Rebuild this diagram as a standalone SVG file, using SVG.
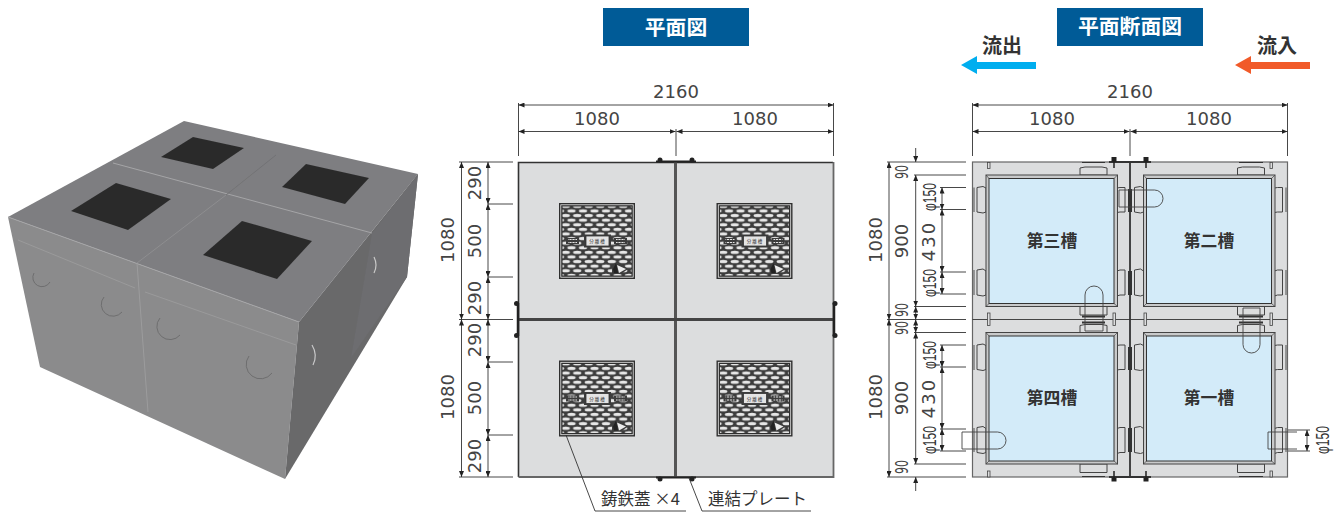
<svg xmlns="http://www.w3.org/2000/svg" width="1341" height="514" viewBox="0 0 1341 514">
<style>
.dim{font-family:"DejaVu Sans",sans-serif;font-size:18px;fill:#444;text-anchor:middle}
.phi{font-family:"Liberation Sans",sans-serif;font-size:18.500px;fill:#333;text-anchor:middle}
.ttl{font-family:"Noto Sans CJK JP",sans-serif;font-size:20.800px;font-weight:700;fill:#fff;text-anchor:middle}
.bld{font-family:"Noto Sans CJK JP",sans-serif;font-size:20px;font-weight:700;fill:#333;text-anchor:middle}
.tnk{font-family:"Noto Sans CJK JP",sans-serif;font-size:16.800px;font-weight:700;fill:#333;text-anchor:middle}
.lbl{font-family:"Noto Sans CJK JP",sans-serif;font-size:16.500px;fill:#333}
.d{stroke:#333;stroke-width:.9;fill:none}
.a{marker-start:url(#ar);marker-end:url(#ar)}
.e{marker-end:url(#ar)}
.l{stroke:#444;stroke-width:1;fill:#dcddde}
.p{stroke:#444;stroke-width:.9;fill:none}
</style>
<defs>
<filter id="soft" x="-5%" y="-5%" width="110%" height="110%"><feGaussianBlur stdDeviation=".6"/></filter>
<marker id="ar" markerUnits="userSpaceOnUse" markerWidth="7" markerHeight="5" refX="6" refY="2.500" orient="auto-start-reverse"><path d="M0 0L6 2.500L0 5Z" fill="#222"/></marker>
<pattern id="mesh" patternUnits="userSpaceOnUse" width="11.500" height="9.200" x="1" y="1"><rect width="11.500" height="9.200" fill="#3c3c3c"/><ellipse cx="5.750" cy="2.300" rx="4.200" ry="1.700" fill="#e6e6e6"/><ellipse cx="0" cy="6.900" rx="4.200" ry="1.700" fill="#e6e6e6"/><ellipse cx="11.500" cy="6.900" rx="4.200" ry="1.700" fill="#e6e6e6"/></pattern>
<g id="cover">
<rect x="0" y="0" width="76" height="76" fill="#2f2f2f"/>
<rect x="1.800" y="1.800" width="72.400" height="72.400" fill="none" stroke="#ececec" stroke-width=".8"/>
<rect x="3.500" y="3.500" width="69" height="69" fill="url(#mesh)"/>
<rect x="25" y="31.500" width="27" height="13" fill="#3c3c3c"/>
<rect x="27" y="33" width="23" height="10" fill="#e4e4e4" stroke="#333" stroke-width=".8"/>
<text x="38.500" y="40" font-family="'Noto Sans CJK JP',sans-serif" font-size="4.500" letter-spacing="1" text-anchor="middle" fill="#333">分離槽</text>
<rect x="7" y="35" width="13" height="6" fill="#3c3c3c"/><rect x="55" y="35" width="13" height="6" fill="#3c3c3c"/>
<path d="M9 36.500H18M9 39.500H18M57 36.500H66M57 39.500H66" stroke="#e4e4e4" stroke-width="1"/>
<path d="M10 35V41M13 35V41M16 35V41M59 35V41M62 35V41M65 35V41" stroke="#3c3c3c" stroke-width=".8"/>
<path d="M53 61H62L69 66L62 71H53Z" fill="#3c3c3c"/>
<path d="M58 62L67 66L60 70Z" fill="#ececec"/><path d="M54 66L57 60L59 70L55 70Z" fill="#222"/>
</g>
<g id="tank">
<path class="l" d="M977 187.500L983 186.500L986 188V212L983 213L977 212Z M977 270L983 269L986 271V295L983 296L977 295Z M1117 188L1120 187.500H1125V212H1120L1117 212.500Z M1117 271L1120 270H1125V295H1120L1117 296Z"/>
<path class="l" d="M1080 175V168L1085 167H1102L1107 168V175Z M1080 306.500V315H1107V306.500Z"/>
<rect x="986" y="175" width="131.500" height="131.500" fill="#c9cacb" stroke="#444" stroke-width="1"/>
<rect x="989" y="178.500" width="125" height="125" fill="#d3ebf9" stroke="#333" stroke-width="1"/>
<path d="M986 175L989 178.500M1117.500 175L1114 178.500M986 306.500L989 303.500M1117.500 306.500L1114 303.500" stroke="#444" stroke-width=".7"/>
</g>
</defs>
<rect width="1341" height="514" fill="#fff"/>
<g id="block-3d" filter="url(#soft)">
<polygon points="8,217 184,121 418,174 299,322" fill="#7e7e81"/>
<polygon points="8,217 299,322 285,479 40,367" fill="#8b8b8c"/>
<polygon points="299,322 418,174 407,277 285,479" fill="#69696b"/>
<polygon points="372,233 351,358 407,277 418,174" fill="#6d6d6f"/>
<polygon points="193,137 244,148 213,169 161,157" fill="#2c2c2c"/>
<polygon points="306,164 369,178 345,204 282,187" fill="#2c2c2c"/>
<polygon points="116,183 171,199 128,230 71,211" fill="#2c2c2c"/>
<polygon points="242,221 312,241 277,279 203,255" fill="#2c2c2c"/>
<g fill="none" stroke="#a5a5a7" stroke-width="1">
<path d="M113 163L372 233"/><path d="M8 217L299 322"/><path d="M137 263L226 195" stroke="#8e8e90"/><path d="M226 195L276 155" stroke="#737375"/>
<path d="M137 263L148 412" stroke="#9c9c9d"/>
<path d="M18 240L135 288M145 292L296 345" stroke="#9a9a9b"/>
</g>
<g fill="none" stroke="#6e6e6f" stroke-width="1">
<path d="M34 273A9 9 0 0 0 50 282M104 297A9 9 0 0 0 122 312M160 318A10 10 0 0 0 180 335M249 356A12 12 0 0 0 272 373"/>
</g>
<g fill="none" stroke="#c9c9c9" stroke-width="1.200"><path d="M312 345Q318 355 313 365"/><path d="M374 257Q378 265 374 273"/></g>
</g>
<g id="title-plan"><rect x="603" y="8" width="146" height="38" fill="#005b97"/><text class="ttl" x="676" y="35">平面図</text></g>
<g id="title-section"><rect x="1057" y="8" width="146" height="38" fill="#005b97"/><text class="ttl" x="1130" y="34">平面断面図</text></g>
<g id="outflow"><text class="bld" x="1002" y="53">流出</text><polygon points="961,65 977,56 977,62 1036,62 1036,69 977,69 977,74" fill="#00aeef"/></g>
<g id="inflow"><text class="bld" x="1277" y="53">流入</text><polygon points="1235,65 1251,56 1251,62 1310,62 1310,69 1251,69 1251,74" fill="#f15a29"/></g>

<g id="plan">
<rect x="518.500" y="162" width="315" height="315" fill="#dcddde"/>
<g id="plan-frame" fill="none">
<path d="M518.500 477V162.500H833" stroke="#333" stroke-width="1.600"/>
<path d="M518.500 477H833.500V162" stroke="#666" stroke-width="1.800"/>
<path d="M675.500 162V477" stroke="#555" stroke-width="3"/>
<path d="M518 319.500H834" stroke="#444" stroke-width="3"/>
<path d="M518 303V336M834 303V336" stroke="#222" stroke-width="2.500"/>
<path d="M656 161.500H696M656 477.500H696" stroke="#222" stroke-width="2"/>
</g>
<g id="plan-bolts" fill="#222"><circle cx="660" cy="160" r="2.500"/><circle cx="692" cy="160" r="2.500"/><circle cx="660" cy="479" r="2.500"/><circle cx="692" cy="479" r="2.500"/><circle cx="516.500" cy="303.500" r="2.500"/><circle cx="516.500" cy="335.500" r="2.500"/><circle cx="835" cy="303.500" r="2.500"/><circle cx="835" cy="335.500" r="2.500"/></g>
<g id="cover-1"><use href="#cover" x="559" y="203"/></g>
<g id="cover-2"><use href="#cover" x="716.500" y="203"/></g>
<g id="cover-3"><use href="#cover" x="559" y="360.500"/></g>
<g id="cover-4"><use href="#cover" x="716.500" y="360.500"/></g>
</g>

<g id="section">
<rect x="972.500" y="162" width="315" height="315" fill="#dcddde" stroke="#666" stroke-width="1.200"/>
<g id="tank-3"><use href="#tank"/><text class="tnk" x="1052" y="247">第三槽</text></g>
<g id="tank-2"><use href="#tank" x="157.500"/><text class="tnk" x="1209" y="247">第二槽</text></g>
<g id="tank-4"><use href="#tank" y="157.500"/><text class="tnk" x="1052" y="404">第四槽</text></g>
<g id="tank-1"><use href="#tank" x="157.500" y="157.500"/><text class="tnk" x="1209" y="404">第一槽</text></g>
<g id="walls" fill="none" stroke="#333">
<path d="M1130 162V477" stroke-width="1.800"/>
<path d="M972.500 319.500H1287.500" stroke-width=".9"/>
<path d="M1130 189V212M1130 271V295M1130 347V370M1130 428V452" stroke-width="4"/>
<path d="M974 187.500V212M974 270V295M974 345V370M974 428V452M1286 187.500V212M1286 270V295M1286 345V370M1286 428V452" stroke-width="1.200" stroke="#666"/>
<path d="M1109 162H1151M1109 477H1151" stroke-width="2"/>
<path d="M1082 316.500H1105M1082 322.500H1105M1239 316.500H1263M1239 322.500H1263" stroke-width="2"/>
<path d="M1082 162.500H1105M1239 162.500H1263M1082 476.500H1105M1239 476.500H1263" stroke-width="1"/>
</g>
<g id="slots" fill="#dcddde" stroke="#444" stroke-width=".8">
<rect x="987.500" y="162.500" width="2.500" height="6"/><rect x="1270" y="162.500" width="2.500" height="6"/>
<rect x="987.500" y="313" width="2.500" height="12.500"/><rect x="1113" y="313" width="2.500" height="12.500"/><rect x="1144" y="313" width="2.500" height="12.500"/><rect x="1270" y="313" width="2.500" height="12.500"/>
<rect x="987.500" y="471" width="2.500" height="6"/><rect x="1270" y="471" width="2.500" height="6"/>
</g>
<g id="section-bolts" fill="#222" stroke="#222"><rect x="1112" y="157.500" width="4" height="4"/><rect x="1144" y="157.500" width="4" height="4"/><rect x="1112" y="478" width="4" height="3"/><rect x="1144" y="478" width="4" height="3"/><path d="M1114 160V168M1146 160V168M1114 471V478M1146 471V478" stroke-width="1.500" fill="none"/></g>
</g>

<g id="pipes" class="p">
<path d="M1119 190H1154.500A8.500 8.500 0 0 1 1154.500 207H1119Z"/>
<path d="M1085 331V295A9 9 0 0 1 1103 295V331Z"/>
<path d="M1243 308V344.500A8.500 8.500 0 0 0 1260 344.500V308Z"/>
<path d="M962 432H997.500A8.500 8.500 0 0 1 997.500 449H962Z"/>
<path d="M1297 432H1268V449H1297"/>
</g>

<g id="connectors" fill="none">
<g id="dims-plan" class="d">
<path d="M518.500 103V156M833.500 103V156M676 129V156"/>
<path class="a" d="M518.500 105H833.500"/>
<path class="a" d="M518.500 131.500H675.500"/>
<path class="a" d="M676.500 131.500H833.500"/>
<path d="M459 162H513M488 204H513M488 277H513M459 319.500H513M488 362H513M488 435H513M459 477H513"/>
<path class="a" d="M461.500 162V319.500"/><path class="a" d="M461.500 319.500V477"/>
<path class="a" d="M488 162V204"/><path class="a" d="M488 204V277"/><path class="a" d="M488 277V319.500"/>
<path class="a" d="M488 319.500V362"/><path class="a" d="M488 362V435"/><path class="a" d="M488 435V477"/>
<path d="M566 435L595 511H686M689 478L702 511H811"/>
</g>
<g id="dims-section" class="d">
<path d="M972.500 103V156M1287.500 103V156M1130 129V156"/>
<path class="a" d="M972.500 105H1287.500"/>
<path class="a" d="M972.500 131.500H1129.500"/>
<path class="a" d="M1130.500 131.500H1287.500"/>
<path d="M887 162H966M914 175H966M914 306.500H966M887 319.500H966M914 332.500H966M914 464H966M887 477H966"/>
<path d="M940 187.500H966M940 209.500H966M940 272H966M940 294H966M940 345H966M940 367H966M940 429H966M940 451H966"/>
<path class="a" d="M889 162V319.500"/><path class="a" d="M889 319.500V477"/>
<path class="e" d="M915.700 148V162"/><path class="a" d="M915.700 175V306.500"/><path class="a" d="M915.700 306.500V319.500"/><path class="a" d="M915.700 319.500V332.500"/><path class="a" d="M915.700 332.500V464"/><path class="e" d="M915.700 491V477"/>
<path class="a" d="M942 187.500V209.500"/><path class="a" d="M942 209.500V272"/><path class="a" d="M942 272V294"/>
<path class="a" d="M942 345V367"/><path class="a" d="M942 367V429"/><path class="a" d="M942 429V451"/>
<path d="M1288 430H1310M1288 451H1310"/><path class="a" d="M1307 430V451"/>
</g>
</g>

<g id="labels-plan">
<text class="dim" x="676" y="98">2160</text><text class="dim" x="597" y="125">1080</text><text class="dim" x="755" y="125">1080</text>
<text class="dim" transform="translate(454 240) rotate(-90)">1080</text><text class="dim" transform="translate(454 397) rotate(-90)">1080</text>
<text class="dim" transform="translate(481 183) rotate(-90)">290</text><text class="dim" transform="translate(481 241) rotate(-90)">500</text><text class="dim" transform="translate(481 298) rotate(-90)">290</text>
<text class="dim" transform="translate(481 340) rotate(-90)">290</text><text class="dim" transform="translate(481 398) rotate(-90)">500</text><text class="dim" transform="translate(481 456) rotate(-90)">290</text>
<text class="lbl" x="601" y="505">鋳鉄蓋 ×4</text><text class="lbl" x="708" y="505">連結プレート</text>
</g>
<g id="labels-section">
<text class="dim" x="1130" y="98">2160</text><text class="dim" x="1052" y="125">1080</text><text class="dim" x="1209" y="125">1080</text>
<text class="dim" transform="translate(882 240) rotate(-90)">1080</text><text class="dim" transform="translate(882 397) rotate(-90)">1080</text>
<text class="dim" transform="translate(908 241) rotate(-90)">900</text><text class="dim" transform="translate(908 398) rotate(-90)">900</text>
<text class="dim" transform="translate(935 241) rotate(-90)" letter-spacing="2">430</text><text class="dim" transform="translate(935 398) rotate(-90)" letter-spacing="2">430</text>
<g><text class="dim" textLength="14" lengthAdjust="spacingAndGlyphs" transform="translate(908 172) rotate(-90)">90</text><text class="dim" textLength="14" lengthAdjust="spacingAndGlyphs" transform="translate(908 310) rotate(-90)">90</text><text class="dim" textLength="14" lengthAdjust="spacingAndGlyphs" transform="translate(908 328) rotate(-90)">90</text><text class="dim" textLength="14" lengthAdjust="spacingAndGlyphs" transform="translate(908 467) rotate(-90)">90</text></g>
<g><text class="phi" textLength="28" lengthAdjust="spacingAndGlyphs" transform="translate(936 197) rotate(-90)">φ150</text><text class="phi" textLength="28" lengthAdjust="spacingAndGlyphs" transform="translate(936 283) rotate(-90)">φ150</text><text class="phi" textLength="28" lengthAdjust="spacingAndGlyphs" transform="translate(936 355) rotate(-90)">φ150</text><text class="phi" textLength="28" lengthAdjust="spacingAndGlyphs" transform="translate(936 440) rotate(-90)">φ150</text><text class="phi" textLength="28" lengthAdjust="spacingAndGlyphs" transform="translate(1329 440) rotate(-90)">φ150</text></g>
</g>
</svg>
